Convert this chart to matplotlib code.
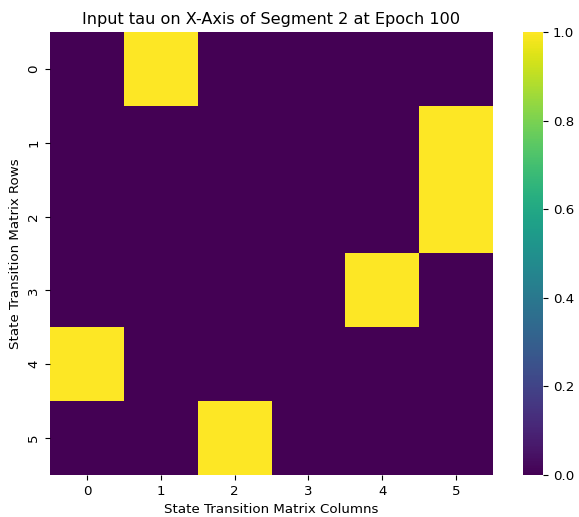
import numpy as np
import matplotlib
matplotlib.use("Agg")
import matplotlib.pyplot as plt
import seaborn as sns

rows = [0, 1, 2, 3, 4, 5]
cols = [0, 1, 2, 3, 4, 5]
# column index holding the 1 in each row
active_col = [1, 5, 5, 4, 0, 2]

tau = np.zeros((len(rows), len(cols)))
for r, c in zip(rows, active_col):
    tau[r, c] = 1.0

plt.rcParams["font.size"] = 9.65

fig = plt.figure(figsize=(5.79, 5.17), dpi=100)
ax = fig.add_axes([50 / 579, 42 / 517, 443 / 579, 443 / 517])
cax = fig.add_axes([523 / 579, 42 / 517, 20 / 579, 443 / 517])

sns.heatmap(tau, cmap="viridis", vmin=0, vmax=1, ax=ax, cbar_ax=cax,
            xticklabels=cols, yticklabels=rows)
ax.set_title("Input tau on X-Axis of Segment 2 at Epoch 100", fontsize=11.6)
ax.set_xlabel("State Transition Matrix Columns", fontsize=9.65, labelpad=3.5)
ax.set_ylabel("State Transition Matrix Rows", fontsize=9.65, labelpad=3.5)
ax.tick_params(labelsize=9.65)
cax.tick_params(labelsize=9.65)

fig.savefig("out.png", dpi=100)
